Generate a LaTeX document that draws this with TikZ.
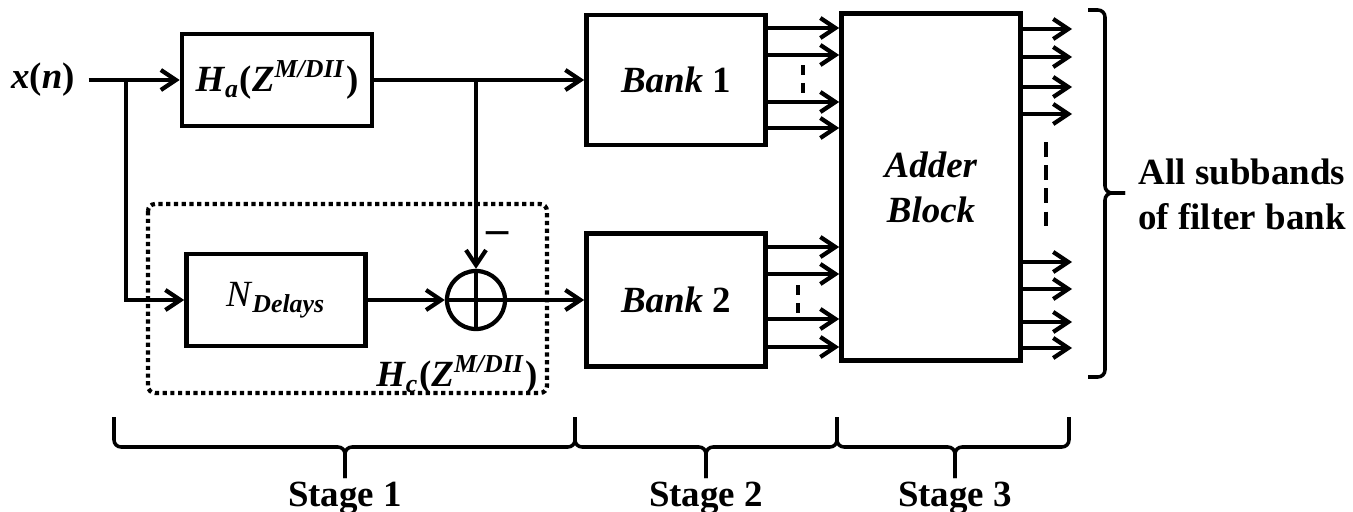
\documentclass[tikz,border=0pt]{standalone}
\usepackage{fontspec}
\setmainfont{Liberation Serif}
\usepackage{tikz}
\usetikzlibrary{arrows.meta, positioning}

\begin{document}
\begin{tikzpicture}[x=0.01cm, y=-0.01cm, >={Straight Barb[length=1.5mm,width=2mm]},
    line width=1.2pt, font=\fontsize{10.5}{12.8}\selectfont\bfseries,
    blk/.style={draw, line width=1.3pt, inner sep=0pt, minimum width=1.79cm, align=center},
    sumnode/.style={draw, circle, minimum size=0.58cm, inner sep=0pt}]
  \useasboundingbox (0,0) rectangle (1353,512);
  % stage 1
  \node (xin) at (43,80) {\textit{x}(\textit{n})};
  \node[blk, minimum width=1.90cm, minimum height=0.92cm] (ha) at (277,80)
    {\textit{H}\textsubscript{\textit{a}}(\textit{Z}\textsuperscript{\textit{M/DII}})};
  \node[blk, minimum height=0.92cm] (nd) at (276,300)
    {\textmd{\textit{N}}\textsubscript{\textit{Delays}}};
  \node[sumnode] (sum) at (476,300) {};
  \node[scale=1.2] (minus) at (498,238) {--};
  \node (hc) at (457,375)
    {\textit{H}\textsubscript{\textit{c}}(\textit{Z}\textsuperscript{\textit{M/DII}})};
  \draw[densely dotted, rounded corners=2pt] (148,204) rectangle (547,393);
  % stage 2 and 3
  \node[blk, minimum height=1.30cm] (bank1) at (676,80) {\textit{Bank} 1};
  \node[blk, minimum height=1.33cm] (bank2) at (676,300) {\textit{Bank} 2};
  \node[blk, minimum height=3.47cm] (adder) at (931,187) {\textit{Adder}\\\textit{Block}};
  \node[align=center] (allsub) at (1242,194) {All subbands\\of filter bank};

  \coordinate (split) at (126,80);
  \coordinate (tap) at (476,80);
  \coordinate (outend) at (1072,0);
  \draw[->] (xin) -- (ha);
  \draw[->] (split) |- (nd);
  \draw[->] (ha) -- (bank1);
  \draw[->] (tap) -- (sum);
  \draw[->] (nd) -- (sum);
  \draw[->] (sum) -- (bank2);
  \draw (sum.north) -- (sum.south) (sum.west) -- (sum.east);
  \foreach \y in {28,55,102,128}
    \draw[->] (bank1.east |- 0,\y) -- (adder.west |- 0,\y);
  \foreach \y in {247,274,319,347}
    \draw[->] (bank2.east |- 0,\y) -- (adder.west |- 0,\y);
  \foreach \y in {29,57,87,114,262,289,322,348}
    \draw[->] (adder.east |- 0,\y) -- (outend |- 0,\y);
  \draw[dash pattern=on 2.8pt off 2.3pt] (803,65) -- (803,93);
  \draw[dash pattern=on 2.8pt off 2.3pt] (798,285) -- (798,313);
  \draw[dash pattern=on 4.2pt off 2.4pt] (1046,142) -- (1046,227);
  % brackets
  \draw[line width=1pt, rounded corners=2pt] (1088,10) -| (1105,193) -- (1125,193);
  \draw[line width=1pt, rounded corners=2pt] (1125,193) -- (1105,193) |- (1088,377);
  \foreach \a/\m/\b/\n in {114/345/575/1, 575/706/837/2, 837/955/1069/3} {
    \draw[line width=1pt, rounded corners=2pt] (\a,417) |- (\m,447) -- (\m,478);
    \draw[line width=1pt, rounded corners=2pt] (\b,417) |- (\m,447) -- (\m,478);
    \node[anchor=base] (stage\n) at (\m,506) {Stage \n};
  }
\end{tikzpicture}
\end{document}
